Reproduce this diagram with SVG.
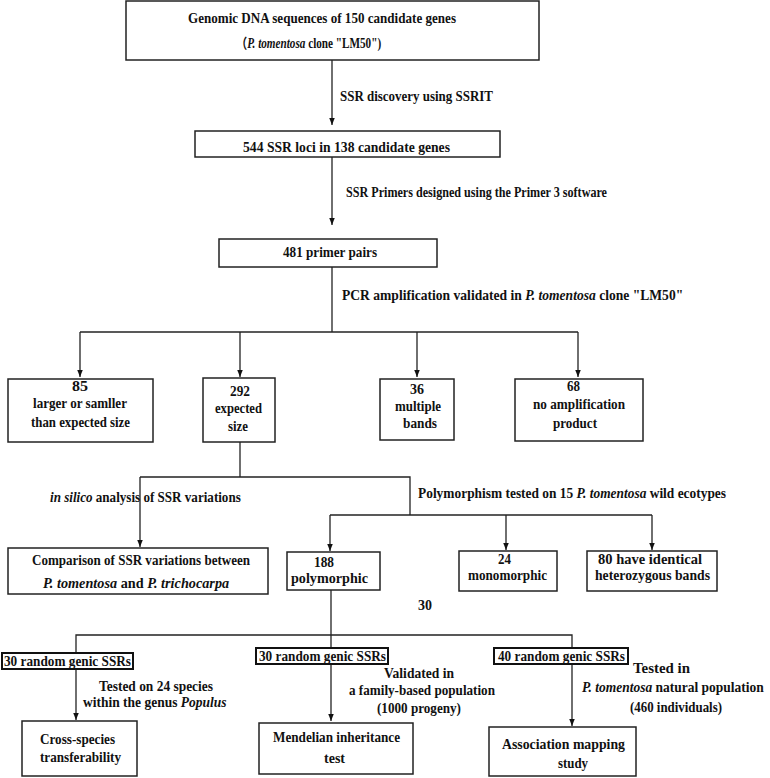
<svg xmlns="http://www.w3.org/2000/svg" width="770" height="778" viewBox="0 0 770 778">
<defs>
<style>
text{font-family:"Liberation Serif","Noto Sans CJK SC",serif;font-weight:bold;font-size:15px;fill:#111;}
.i{font-style:italic;}
.box{fill:#fff;stroke:#222;stroke-width:1.5;}
.sbox{fill:#fff;stroke:#111;stroke-width:2;}
.ln{fill:none;stroke:#222;stroke-width:1.3;}
</style>
<marker id="ah" markerUnits="userSpaceOnUse" markerWidth="8" markerHeight="6" refX="7" refY="2.75" orient="auto">
<path d="M0,0 L7,2.75 L0,5.5 z" fill="#111"/>
</marker>
</defs>
<rect width="770" height="778" fill="#fff"/>

<g id="connectors">
<line class="ln" x1="332" y1="60" x2="332" y2="125" marker-end="url(#ah)"/>
<line class="ln" x1="332" y1="157" x2="332" y2="225" marker-end="url(#ah)"/>
<polyline class="ln" points="332,267 332,332"/>
<polyline class="ln" points="80,332 578,332"/>
<line class="ln" x1="80" y1="332" x2="80" y2="377" marker-end="url(#ah)"/>
<line class="ln" x1="240" y1="332" x2="240" y2="377" marker-end="url(#ah)"/>
<line class="ln" x1="417" y1="332" x2="417" y2="377" marker-end="url(#ah)"/>
<line class="ln" x1="578" y1="332" x2="578" y2="377" marker-end="url(#ah)"/>
<polyline class="ln" points="240,442 240,477"/>
<polyline class="ln" points="140,477 410,477 410,515"/>
<line class="ln" x1="140" y1="477" x2="140" y2="547" marker-end="url(#ah)"/>
<polyline class="ln" points="330,515 652,515"/>
<line class="ln" x1="330" y1="515" x2="330" y2="551" marker-end="url(#ah)"/>
<line class="ln" x1="506" y1="515" x2="506" y2="550" marker-end="url(#ah)"/>
<line class="ln" x1="652" y1="515" x2="652" y2="550" marker-end="url(#ah)"/>
<polyline class="ln" points="331,590 331,648"/>
<polyline class="ln" points="76,653 76,635 572,635 572,648"/>
<line class="ln" x1="76" y1="669" x2="76" y2="720" marker-end="url(#ah)"/>
<line class="ln" x1="331" y1="664" x2="331" y2="721" marker-end="url(#ah)"/>
<line class="ln" x1="572" y1="664" x2="572" y2="726" marker-end="url(#ah)"/>
</g>

<g id="labels">
<text x="340" y="101" textLength="153" lengthAdjust="spacingAndGlyphs">SSR discovery using SSRIT</text>
<text x="346" y="197" textLength="261" lengthAdjust="spacingAndGlyphs">SSR Primers designed using the Primer 3 software</text>
<text transform="translate(342,300) scale(0.905,1)">PCR amplification validated in <tspan class="i">P. tomentosa</tspan> clone "LM50"</text>
<text transform="translate(50,502) scale(0.873,1)"><tspan class="i">in silico</tspan> analysis of SSR variations</text>
<text transform="translate(418,498) scale(0.894,1)">Polymorphism tested on 15 <tspan class="i">P. tomentosa</tspan> wild ecotypes</text>
<text x="418" y="610" textLength="14" lengthAdjust="spacingAndGlyphs">30</text>
<text x="99" y="691" textLength="114" lengthAdjust="spacingAndGlyphs">Tested on 24 species</text>
<text transform="translate(83,707) scale(0.9,1)">within the genus <tspan class="i">Populus</tspan></text>
<text x="384" y="678" textLength="70" lengthAdjust="spacingAndGlyphs">Validated in</text>
<text x="349" y="695" textLength="146" lengthAdjust="spacingAndGlyphs">a family-based population</text>
<text x="377" y="713" textLength="84" lengthAdjust="spacingAndGlyphs">(1000 progeny)</text>
<text x="633" y="673" textLength="57" lengthAdjust="spacingAndGlyphs">Tested in</text>
<text transform="translate(582,692) scale(0.9,1)"><tspan class="i">P. tomentosa</tspan> natural population</text>
<text x="630" y="712" textLength="92" lengthAdjust="spacingAndGlyphs">(460 individuals)</text>
</g>

<g id="n-genomic">
<rect class="box" x="126" y="1" width="413" height="59"/>
<text x="188" y="23" textLength="268" lengthAdjust="spacingAndGlyphs">Genomic DNA sequences of 150 candidate genes</text>
<text transform="translate(236,48) scale(0.8,1)" style="font-size:14px">（<tspan class="i">P. tomentosa</tspan> clone "LM50")</text>
</g>

<g id="n-ssrloci">
<rect class="box" x="195" y="131" width="305" height="26"/>
<text x="243" y="152" textLength="207" lengthAdjust="spacingAndGlyphs">544 SSR loci in 138 candidate genes</text>
</g>

<g id="n-primers">
<rect class="box" x="219" y="239" width="218" height="28"/>
<text x="283" y="257" textLength="94" lengthAdjust="spacingAndGlyphs">481 primer pairs</text>
</g>

<g id="n-85">
<rect class="box" x="8" y="379" width="145" height="63"/>
<text x="72" y="391" textLength="16" lengthAdjust="spacingAndGlyphs">85</text>
<text x="33" y="408" textLength="94" lengthAdjust="spacingAndGlyphs">larger or samller</text>
<text x="31" y="427" textLength="99" lengthAdjust="spacingAndGlyphs">than expected size</text>
</g>

<g id="n-292">
<rect class="box" x="203" y="378" width="72" height="64"/>
<text x="230" y="396" textLength="20" lengthAdjust="spacingAndGlyphs">292</text>
<text x="215" y="413" textLength="47" lengthAdjust="spacingAndGlyphs">expected</text>
<text x="228" y="431" textLength="20" lengthAdjust="spacingAndGlyphs">size</text>
</g>

<g id="n-36">
<rect class="box" x="380" y="379" width="74" height="61"/>
<text x="410" y="394" textLength="14" lengthAdjust="spacingAndGlyphs">36</text>
<text x="395" y="411" textLength="46" lengthAdjust="spacingAndGlyphs">multiple</text>
<text x="403" y="428" textLength="34" lengthAdjust="spacingAndGlyphs">bands</text>
</g>

<g id="n-68">
<rect class="box" x="515" y="379" width="128" height="62"/>
<text x="567" y="391" textLength="13" lengthAdjust="spacingAndGlyphs">68</text>
<text x="533" y="409" textLength="92" lengthAdjust="spacingAndGlyphs">no amplification</text>
<text x="553" y="428" textLength="44" lengthAdjust="spacingAndGlyphs">product</text>
</g>

<g id="n-comparison">
<rect class="box" x="8" y="548" width="260" height="46"/>
<text x="32" y="565" textLength="218" lengthAdjust="spacingAndGlyphs">Comparison of SSR variations between</text>
<text transform="translate(43,588) scale(0.95,1)"><tspan class="i">P. tomentosa</tspan> and <tspan class="i">P. trichocarpa</tspan></text>
</g>

<g id="n-188">
<rect class="box" x="287" y="552" width="93" height="38"/>
<text x="314" y="567" textLength="20" lengthAdjust="spacingAndGlyphs">188</text>
<text x="291" y="583" textLength="77" lengthAdjust="spacingAndGlyphs">polymorphic</text>
</g>

<g id="n-24">
<rect class="box" x="459" y="551" width="98" height="40"/>
<text x="498" y="564" textLength="13" lengthAdjust="spacingAndGlyphs">24</text>
<text x="468" y="580" textLength="79" lengthAdjust="spacingAndGlyphs">monomorphic</text>
</g>

<g id="n-80">
<rect class="box" x="587" y="551" width="130" height="40"/>
<text x="598" y="564" textLength="104" lengthAdjust="spacingAndGlyphs">80 have identical</text>
<text x="595" y="580" textLength="115" lengthAdjust="spacingAndGlyphs">heterozygous bands</text>
</g>

<g id="n-ssr30a">
<rect class="sbox" x="2" y="653" width="131" height="16"/>
<text x="4" y="666" textLength="127" lengthAdjust="spacingAndGlyphs">30 random genic SSRs</text>
</g>

<g id="n-ssr30b">
<rect class="sbox" x="256" y="648" width="132" height="16"/>
<text x="259" y="661" textLength="127" lengthAdjust="spacingAndGlyphs">30 random genic SSRs</text>
</g>

<g id="n-ssr40">
<rect class="sbox" x="494" y="648" width="134" height="16"/>
<text x="498" y="661" textLength="127" lengthAdjust="spacingAndGlyphs">40 random genic SSRs</text>
</g>

<g id="n-cross">
<rect class="box" x="22" y="721" width="115" height="55"/>
<text x="40" y="744" textLength="75" lengthAdjust="spacingAndGlyphs">Cross-species</text>
<text x="40" y="762" textLength="81" lengthAdjust="spacingAndGlyphs">transferability</text>
</g>

<g id="n-mendel">
<rect class="box" x="259" y="723" width="154" height="51"/>
<text x="273" y="742" textLength="127" lengthAdjust="spacingAndGlyphs">Mendelian inheritance</text>
<text x="324" y="763" textLength="21" lengthAdjust="spacingAndGlyphs">test</text>
</g>

<g id="n-assoc">
<rect class="box" x="489" y="727" width="147" height="49"/>
<text x="502" y="749" textLength="123" lengthAdjust="spacingAndGlyphs">Association mapping</text>
<text x="558" y="768" textLength="30" lengthAdjust="spacingAndGlyphs">study</text>
</g>
</svg>
